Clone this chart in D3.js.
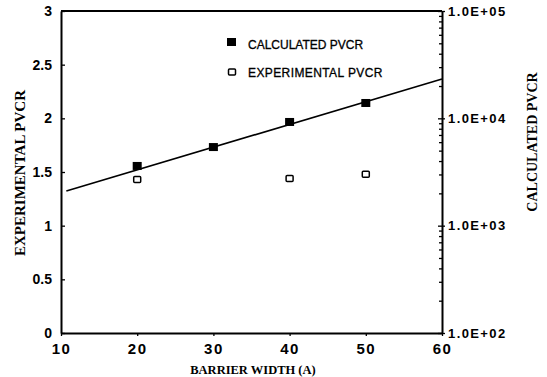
<!DOCTYPE html>
<html>
<head>
<meta charset="utf-8">
<script src="https://cdn.jsdelivr.net/npm/d3@7"></script>
<style>
  html, body { margin: 0; padding: 0; background: #fff; }
  svg text { fill: #000; }
</style>
</head>
<body>
<div id="chart"></div>
<script>
// barrier width (A)
const widths = [20, 30, 40, 50];
// calculated PVCR, right log axis
const calcPvcr = [3600, 5400, 9250, 13900];
// experimental PVCR, left linear axis
const expWidths = [20, 40, 50];
const expPvcr = [1.43, 1.44, 1.48];
// fitted line through the calculated values
const fitX = [10.7, 60];
const fitY = [2100, 23300];

const xTicks = [10, 20, 30, 40, 50, 60];
const leftTicks = [0, 0.5, 1, 1.5, 2, 2.5, 3];
const rightTicks = [1e2, 1e3, 1e4, 1e5];
const rightLabels = ['1.0E+02', '1.0E+03', '1.0E+04', '1.0E+05'];

const W = 547, H = 377;
const m = { left: 61, right: 442, top: 11, bottom: 333 };

const svg = d3.select('#chart').append('svg')
  .attr('width', W).attr('height', H);

const x = d3.scaleLinear().domain([10, 60]).range([m.left, m.right]);
const yL = d3.scaleLinear().domain([0, 3]).range([m.bottom, m.top]);
const yR = d3.scaleLog().domain([1e2, 1e5]).range([m.bottom, m.top]);

const tickFont = 'Liberation Sans, Arial, sans-serif';
const titleFont = 'Liberation Serif, Times New Roman, serif';

// X axis
const gx = svg.append('g')
  .attr('transform', `translate(0,${m.bottom})`)
  .call(d3.axisBottom(x).tickValues(xTicks).tickSize(3).tickPadding(7).tickSizeOuter(0));
gx.selectAll('text')
  .style('font-family', tickFont).style('font-weight', 'bold')
  .style('font-size', '15px').style('letter-spacing', '1.5px');

// Left axis (ticks pointing inward)
const gl = svg.append('g')
  .attr('transform', `translate(${m.left},0)`)
  .call(d3.axisLeft(yL).tickValues(leftTicks).tickSize(-4).tickPadding(9).tickSizeOuter(0)
    .tickFormat(d => d3.format('')(d)));
gl.selectAll('text')
  .style('font-family', tickFont).style('font-weight', 'bold')
  .style('font-size', '14px');

// Right axis minor ticks (inward)
const minor = [];
for (let p = 2; p < 5; p++) {
  for (let k = 2; k <= 9; k++) minor.push(k * Math.pow(10, p));
}
svg.append('g')
  .attr('transform', `translate(${m.right},0)`)
  .call(d3.axisLeft(yR).tickValues(minor).tickSize(3).tickFormat('').tickSizeOuter(0))
  .select('.domain').remove();
svg.append('g')
  .attr('transform', `translate(${m.right},0)`)
  .call(d3.axisLeft(yR).tickValues(rightTicks).tickSize(4).tickFormat('').tickSizeOuter(0))
  .select('.domain').remove();

// Right axis major ticks and labels
const gr = svg.append('g')
  .attr('transform', `translate(${m.right},0)`)
  .call(d3.axisRight(yR).tickValues(rightTicks).tickSize(3).tickPadding(3).tickSizeOuter(0)
    .tickFormat((d, i) => rightLabels[i]));
gr.selectAll('text')
  .style('font-family', tickFont).style('font-weight', 'bold')
  .style('font-size', '13px').style('letter-spacing', '1.4px');

// frame top line
svg.append('line')
  .attr('class', 'frame')
  .attr('x1', x(10)).attr('x2', x(60))
  .attr('y1', yL(3)).attr('y2', yL(3))
  .attr('stroke', '#000').attr('stroke-width', 2);

svg.selectAll('.domain').attr('stroke', '#000').attr('stroke-width', 2);
svg.selectAll('.tick line').attr('stroke', '#000').attr('stroke-width', 1.3);

// fitted line
svg.append('path')
  .datum(fitX.map((d, i) => [d, fitY[i]]))
  .attr('fill', 'none').attr('stroke', '#000').attr('stroke-width', 1.6)
  .attr('d', d3.line().x(d => x(d[0])).y(d => yR(d[1])));

// calculated PVCR: filled squares
svg.selectAll('.calc')
  .data(widths.map((d, i) => [d, calcPvcr[i]]))
  .enter().append('rect')
  .attr('class', 'calc')
  .attr('x', d => x(d[0]) - 4.5).attr('y', d => yR(d[1]) - 4)
  .attr('width', 9).attr('height', 8)
  .attr('fill', '#000');

// experimental PVCR: open squares
svg.selectAll('.exp')
  .data(expWidths.map((d, i) => [d, expPvcr[i]]))
  .enter().append('rect')
  .attr('class', 'exp')
  .attr('x', d => x(d[0]) - 3.5).attr('y', d => yL(d[1]) - 3)
  .attr('width', 7).attr('height', 6).attr('rx', 1)
  .attr('fill', '#fff').attr('stroke', '#000').attr('stroke-width', 1.5);

// legend
const legend = svg.append('g');
legend.append('rect')
  .attr('x', 227).attr('y', 38).attr('width', 9).attr('height', 8).attr('fill', '#000');
legend.append('text')
  .attr('x', 248).attr('y', 48.5)
  .style('font-family', tickFont).style('font-size', '12px')
  .style('stroke', '#000').style('stroke-width', 0.3)
  .text('CALCULATED PVCR');
legend.append('rect')
  .attr('x', 228.5).attr('y', 69).attr('width', 7).attr('height', 6).attr('rx', 1)
  .attr('fill', '#fff').attr('stroke', '#000').attr('stroke-width', 1.5);
legend.append('text')
  .attr('x', 248).attr('y', 77)
  .style('font-family', tickFont).style('font-size', '12px')
  .style('letter-spacing', '0.4px')
  .style('stroke', '#000').style('stroke-width', 0.3)
  .text('EXPERIMENTAL PVCR');

// axis titles
svg.append('text')
  .attr('x', 253).attr('y', 374)
  .attr('text-anchor', 'middle')
  .style('font-family', titleFont).style('font-weight', 'bold').style('font-size', '12.5px')
  .text('BARRIER WIDTH (A)');

svg.append('text')
  .attr('transform', 'translate(25,173) rotate(-90)')
  .attr('text-anchor', 'middle')
  .style('font-family', titleFont).style('font-weight', 'bold').style('font-size', '15px')
  .text('EXPERIMENTAL PVCR');

svg.append('text')
  .attr('transform', 'translate(537,142) rotate(-90)')
  .attr('text-anchor', 'middle')
  .style('font-family', titleFont).style('font-weight', 'bold').style('font-size', '14px')
  .text('CALCULATED PVCR');
</script>
</body>
</html>
